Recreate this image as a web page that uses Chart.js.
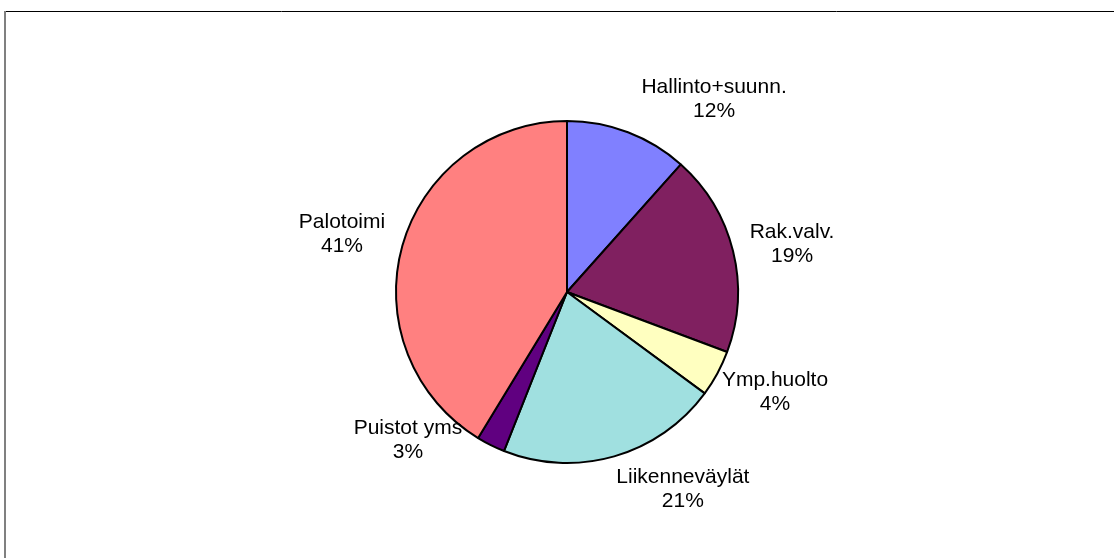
<!DOCTYPE html>
<html>
<head>
<meta charset="utf-8">
<script src="https://cdn.jsdelivr.net/npm/chart.js@4/dist/chart.umd.min.js"></script>
<style>
  html, body { margin: 0; padding: 0; background: #ffffff; }
  #wrap { width: 1114px; height: 558px; position: relative; }
</style>
</head>
<body>
<div id="wrap"><canvas id="c" width="1114" height="558"></canvas></div>
<script>
// ---- data ----
const categories = ["Hallinto+suunn.", "Rak.valv.", "Ymp.huolto", "Liikenneväylät", "Puistot yms", "Palotoimi"];
const shares = [11.6, 19.1, 4.4, 20.9, 2.7, 41.3];
const sliceColors = ["#8080FF", "#802060", "#FFFFC0", "#A0E0E0", "#600080", "#FF8080"];

// label placement (angle in degrees clockwise from top, distance as multiple of radius)
const labelAngles = [37.4, 78.1, 115.8, 149.6, 227, 284.3];
const labelDist = [1.416, 1.345, 1.351, 1.339, 1.272, 1.358];

const framePlugin = {
  id: 'frame',
  beforeDraw(chart) {
    const ctx = chart.ctx;
    ctx.save();
    ctx.fillStyle = '#ffffff';
    ctx.fillRect(0, 0, chart.width, chart.height);
    ctx.strokeStyle = '#000000';
    ctx.lineWidth = 1;
    ctx.beginPath();
    ctx.moveTo(4, 11.5);
    ctx.lineTo(chart.width, 11.5);
    ctx.stroke();
    ctx.strokeStyle = '#808080';
    ctx.lineWidth = 2;
    ctx.beginPath();
    ctx.moveTo(5, 11);
    ctx.lineTo(5, chart.height);
    ctx.stroke();
    ctx.restore();
  }
};

const labelPlugin = {
  id: 'pieLabels',
  afterDatasetsDraw(chart) {
    const meta = chart.getDatasetMeta(0);
    const data = chart.data.datasets[0].data;
    const total = data.reduce((a, b) => a + b, 0);
    const ctx = chart.ctx;
    ctx.save();
    ctx.fillStyle = '#000000';
    ctx.font = '21px "Liberation Sans", Arial, sans-serif';
    ctx.textAlign = 'center';
    ctx.textBaseline = 'middle';
    meta.data.forEach((arc, i) => {
      const p = arc.getProps(['x', 'y', 'outerRadius'], true);
      const a = labelAngles[i] * Math.PI / 180;
      const d = labelDist[i] * p.outerRadius;
      const cx = p.x + Math.sin(a) * d;
      const cy = p.y - Math.cos(a) * d;
      const pct = Math.round(data[i] / total * 100) + '%';
      ctx.fillText(chart.data.labels[i], cx, cy - 12);
      ctx.fillText(pct, cx, cy + 12);
    });
    ctx.restore();
  }
};

new Chart(document.getElementById('c'), {
  type: 'pie',
  data: {
    labels: categories,
    datasets: [{
      data: shares,
      backgroundColor: sliceColors,
      borderColor: '#000000',
      borderWidth: 2,
      hoverBorderWidth: 2
    }]
  },
  options: {
    responsive: false,
    animation: false,
    events: [],
    rotation: 0,
    layout: { padding: { top: 120, bottom: 94, left: 395, right: 375 } },
    plugins: {
      legend: { display: false },
      tooltip: { enabled: false },
      title: { display: false }
    }
  },
  plugins: [framePlugin, labelPlugin]
});
</script>
</body>
</html>
